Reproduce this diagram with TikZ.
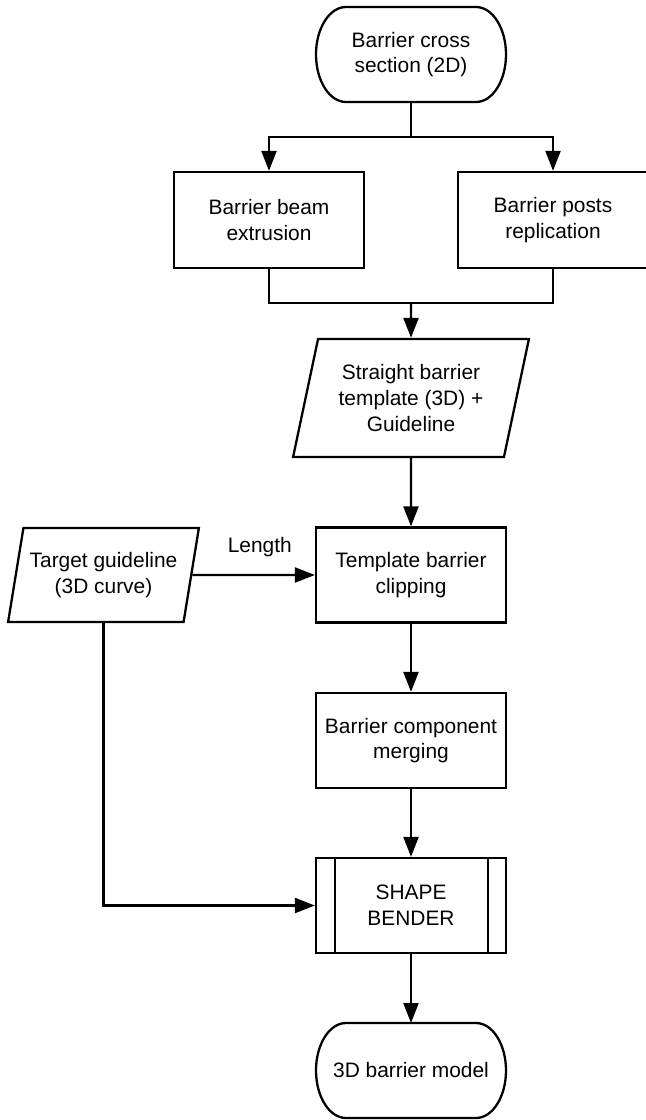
\documentclass[tikz,border=0pt]{standalone}
\usepackage{fontspec}
\setmainfont{Liberation Sans}
\usetikzlibrary{shapes.geometric,arrows.meta}
\newcommand{\drawTerm}[1]{%
  \draw ([xshift=0.6cm]#1.north west) -- ([xshift=-0.6cm]#1.north east)
    arc[start angle=90,end angle=-90,x radius=0.6cm,y radius=0.95cm]
    -- ([xshift=0.6cm]#1.south west)
    arc[start angle=270,end angle=90,x radius=0.6cm,y radius=0.95cm] -- cycle;}

\begin{document}
\begin{tikzpicture}[line width=1.3pt, >={Triangle[length=0.4cm,width=0.3cm]},
    font=\fontsize{11.9pt}{14.6pt}\selectfont,
    box/.style={draw, rectangle, minimum width=3.8cm, minimum height=1.9cm, align=center},
    term/.style={rectangle, outer sep=0pt, minimum width=3.8cm, minimum height=1.9cm, align=center},
    io/.style={draw, trapezium, trapezium left angle=75, trapezium right angle=105,
      trapezium stretches=true, align=center}]
      \useasboundingbox (0,0) rectangle (12.9,-22.4);

      \node[term] (start) at (8.22,-1.09) {Barrier cross\\section (2D)};
      \node[box, minimum height=1.92cm] (beam) at (5.38,-4.40) {Barrier beam\\extrusion};
      \node[box, minimum height=1.92cm] (posts) at (11.06,-4.40) {Barrier posts\\replication};
      \node[io, minimum width=4.72cm, minimum height=2.36cm] (tmpl) at (8.22,-7.96) {Straight barrier\\template (3D) +\\Guideline};
      \node[io, minimum width=3.82cm, minimum height=1.88cm] (target) at (2.07,-11.5) {Target guideline\\(3D curve)};
      \node[box] (clip) at (8.22,-11.5) {Template barrier\\clipping};
      \node[box] (merge) at (8.22,-14.81) {Barrier component\\merging};
      \node[box] (bender) at (8.22,-18.11) {SHAPE\\BENDER};
      \node[term] (model) at (8.22,-21.41) {3D barrier model};

      \drawTerm{start}
      \drawTerm{model}
      \draw ([xshift=0.4cm]bender.north west) -- ([xshift=0.4cm]bender.south west);
      \draw ([xshift=-0.38cm]bender.north east) -- ([xshift=-0.38cm]bender.south east);

      \coordinate (split) at (8.22,-2.74);
      \coordinate (join) at (8.22,-6.06);

      \draw (start.south) -- (split);
      \draw[->] (split) -| (beam.north);
      \draw[->] (split) -| (posts.north);
      \draw (beam.south) |- (join);
      \draw (posts.south) |- (join);
      \draw[->] (join) -- (tmpl.north);
      \draw[->] (tmpl.south) -- (clip.north);
      \draw[->] (target.east) -- node[above=0.23cm, pos=0.55] {Length} (clip.west);
      \draw[->] (clip) -- (merge);
      \draw[->] (merge) -- (bender);
      \draw[->] (bender) -- (model);
      \draw[->] (target.south) |- (bender.west);
    \end{tikzpicture}
\end{document}
